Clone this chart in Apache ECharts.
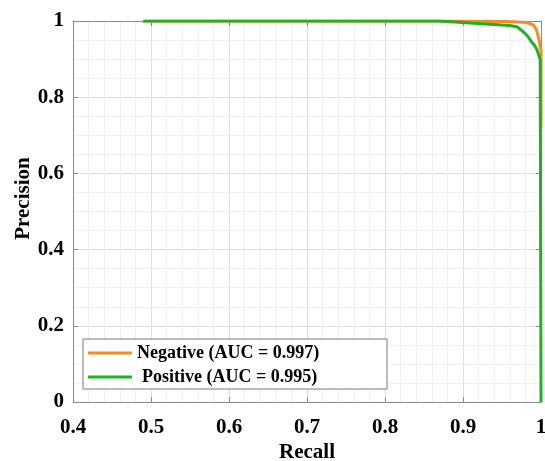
<!DOCTYPE html>
<html>
<head>
<meta charset="utf-8">
<script src="https://cdn.jsdelivr.net/npm/echarts@6/dist/echarts.min.js"></script>
<style>
  html, body { margin: 0; padding: 0; background: #fff; }
  #chart { width: 545px; height: 461px; }
</style>
</head>
<body>
<div id="chart"></div>
<script>
// curve points
var negRecall    = [0.49, 0.6, 0.7, 0.8, 0.9, 0.95, 0.965, 0.982, 0.99, 0.994, 0.996, 0.998, 1.0, 1.0];
var negPrecision = [1.0, 1.0, 1.0, 1.0, 1.0, 0.999, 0.998, 0.996, 0.99, 0.978, 0.963, 0.945, 0.924, 0.72];
var posRecall    = [0.49, 0.6, 0.7, 0.8, 0.87, 0.909, 0.94, 0.96, 0.97, 0.977, 0.983, 0.988, 0.992, 0.995, 0.999, 1.0];
var posPrecision = [1.0, 1.0, 1.0, 1.0, 1.0, 0.995, 0.991, 0.988, 0.984, 0.972, 0.96, 0.945, 0.935, 0.924, 0.898, 0.0];
var seriesNames  = ["Negative (AUC = 0.997)", "Positive (AUC = 0.995)"];
var xTicks = [0.4, 0.5, 0.6, 0.7, 0.8, 0.9, 1];
var yTicks = [0, 0.2, 0.4, 0.6, 0.8, 1];

function zip(xs, ys) {
  return xs.map(function (x, i) { return [x, ys[i]]; });
}

var font = "'Liberation Serif', 'DejaVu Serif', serif";
var axisGray = "#8a8a8a";

var chart = echarts.init(document.getElementById("chart"));

var baseX = {
  type: "value",
  min: xTicks[0],
  max: xTicks[xTicks.length - 1],
  interval: 0.1,
  axisLine: { show: true, onZero: false, lineStyle: { color: axisGray, width: 1 } },
  axisTick: { show: true, inside: true, length: 5, lineStyle: { color: axisGray } },
  minorTick: { show: false, splitNumber: 5 },
  splitLine: { show: true, lineStyle: { color: "#dedede", width: 1 } },
  minorSplitLine: { show: true, lineStyle: { color: "#f0f0f0", width: 1 } }
};
var baseY = {
  type: "value",
  min: yTicks[0],
  max: yTicks[yTicks.length - 1],
  interval: 0.2,
  axisLine: { show: true, onZero: false, lineStyle: { color: axisGray, width: 1 } },
  axisTick: { show: true, inside: true, length: 5, lineStyle: { color: axisGray } },
  minorTick: { show: false, splitNumber: 4 },
  splitLine: { show: true, lineStyle: { color: "#dedede", width: 1 } },
  minorSplitLine: { show: true, lineStyle: { color: "#f0f0f0", width: 1 } }
};

chart.setOption({
  animation: false,
  backgroundColor: "#fff",
  grid: { left: 73, right: 4, top: 21, bottom: 59, containLabel: false, outerBoundsMode: "none" },
  legend: {
    orient: "vertical",
    left: 83,
    top: 339,
    data: seriesNames,
    icon: "rect",
    itemWidth: 44,
    itemHeight: 3,
    itemGap: 4,
    padding: [4, 5, 2, 5],
    backgroundColor: "#fff",
    borderColor: "#7a7a7a",
    borderWidth: 1,
    formatter: function (name) {
      return name === seriesNames[0] ? "{n|" + name + "}" : "{p|" + name + "}";
    },
    textStyle: {
      fontFamily: font,
      fontWeight: "bold",
      fontSize: 18,
      color: "#000",
      lineHeight: 20,
      width: 245,
      rich: {
        n: { fontFamily: font, fontWeight: "bold", fontSize: 18, color: "#000", lineHeight: 20 },
        p: { fontFamily: font, fontWeight: "bold", fontSize: 18, color: "#000", lineHeight: 20, padding: [0, 0, 0, 5] }
      }
    }
  },
  xAxis: [
    Object.assign({}, baseX, {
      position: "bottom",
      name: "Recall",
      nameLocation: "middle",
      nameGap: 40,
      nameMoveOverlap: false,
      nameTextStyle: { fontFamily: font, fontWeight: "bold", fontSize: 21, color: "#000" },
      axisLabel: {
        margin: 15,
        fontFamily: font, fontWeight: "bold", fontSize: 21, color: "#000",
        formatter: function (v) { return String(+v.toFixed(1)); }
      }
    }),
    Object.assign({}, baseX, {
      position: "top",
      axisLabel: { show: false },
      splitLine: { show: false },
      minorSplitLine: { show: false }
    })
  ],
  yAxis: [
    Object.assign({}, baseY, {
      position: "left",
      name: "Precision",
      nameLocation: "middle",
      nameGap: 39,
      nameMoveOverlap: false,
      nameTextStyle: {
        fontFamily: font, fontWeight: "bold", fontSize: 21, color: "#000",
        padding: [0, 0, 0, 26]
      },
      axisLabel: {
        margin: 9,
        fontFamily: font, fontWeight: "bold", fontSize: 21, color: "#000",
        formatter: function (v) { return String(+v.toFixed(1)); }
      }
    }),
    Object.assign({}, baseY, {
      position: "right",
      axisLabel: { show: false },
      splitLine: { show: false },
      minorSplitLine: { show: false }
    })
  ],
  series: [
    {
      name: seriesNames[0],
      type: "line",
      data: zip(negRecall, negPrecision),
      showSymbol: false,
      symbol: "none",
      lineStyle: { color: "#f68b1f", width: 3 },
      itemStyle: { color: "#f68b1f" },
      z: 3
    },
    {
      name: seriesNames[1],
      type: "line",
      data: zip(posRecall, posPrecision),
      showSymbol: false,
      symbol: "none",
      lineStyle: { color: "#1fb21f", width: 3 },
      itemStyle: { color: "#1fb21f" },
      z: 4
    }
  ]
});
</script>
</body>
</html>
